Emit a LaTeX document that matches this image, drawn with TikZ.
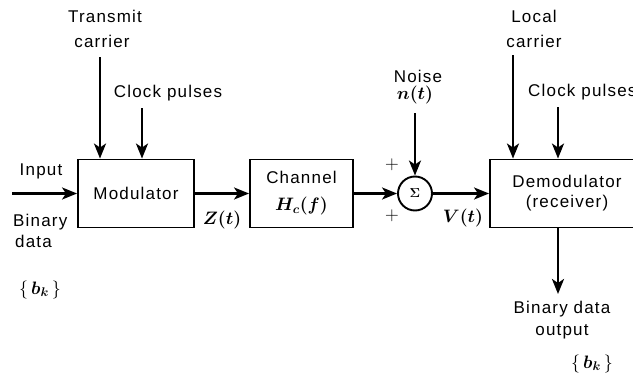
\RequirePackage{fix-cm}
\documentclass[tikz,border=0pt]{standalone}
\usepackage{fontspec}
\setmainfont{Liberation Sans}[LetterSpace=7]
\usetikzlibrary{arrows.meta,calc}
\newcommand{\bkset}{$\{\,${\boldmath$b_k$}$\,\}$}
\begin{document}
\begin{tikzpicture}[x=1pt,y=-1pt,
  font=\fontsize{17}{20}\selectfont,
  box/.style={draw, line width=1.9pt, minimum height=68pt, inner sep=0pt, align=center},
  arr/.style={line width=2.5pt, -{Stealth[length=15pt,width=12pt,inset=4pt]}},
  lbl/.style={inner sep=0pt, anchor=base},
  lblw/.style={inner sep=0pt, anchor=base west},
  mth/.style={font=\fontsize{18}{20}\selectfont\boldmath},
  mthp/.style={font=\fontsize{18}{20}\selectfont}]
\useasboundingbox (0,0) rectangle (633,380);
\clip (0,0) rectangle (633,380);

% blocks
\node[box, minimum width=116pt] (mod) at (136,193.5) {Modulator};
\node[box, minimum width=103pt, font=\fontsize{17}{27}\selectfont] (chan) at (301.5,193.5) {Channel\\{\fontsize{18}{20}\selectfont\boldmath$H_c(f)$}};
\node[draw, circle, line width=1.9pt, minimum size=34pt, inner sep=0pt, font=\fontsize{13}{13}\selectfont\boldmath] (sum) at (415,193.5) {$\Sigma$};
\node[box, minimum width=154pt] (demod) at (567,193.5) {Demodulator\\(receiver)};

% arrow ends
\coordinate (in) at (12,193.5);
\coordinate (tc) at (100,57);
\coordinate (cp1) at (142,108);
\coordinate (nz) at (415,113);
\coordinate (lc) at (513,55);
\coordinate (cp2) at (558,107);
\coordinate (out) at (558,294);

% connectors
\draw[arr] (in) -- (in -| mod.west);
\draw[arr] (mod) -- (chan);
\draw[arr] (chan) -- (sum);
\draw[arr] (sum) -- (demod);
\draw[arr] (tc) -- (tc |- mod.north);
\draw[arr] (cp1) -- (cp1 |- mod.north);
\draw[arr] (nz) -- (sum);
\draw[arr] (lc) -- (lc |- demod.north);
\draw[arr] (cp2) -- (cp2 |- demod.north);
\draw[arr] (out |- demod.south) -- (out);

% labels
\node[lbl] (t1) at (105,23) {Transmit};
\node[lbl] (t2) at (102,48) {carrier};
\node[lbl] (ck1) at (168,97) {Clock pulses};
\node[lbl] (inp) at (41,175) {Input};
\node[lblw] (bin1) at (13,226) {Binary};
\node[lblw] (bin2) at (15,247) {data};
\node[lbl, mthp] (bk1) at (40,294) {\bkset};
\node[lbl, mth] (zt) at (222,224) {$Z(t)$};
\node[lbl] (nz1) at (418,82) {Noise};
\node[lbl, mth] (nz2) at (415,99) {$n(t)$};
\node[font=\fontsize{19}{19}\selectfont] (p1) at (392,165) {$+$};
\node[font=\fontsize{19}{19}\selectfont] (p2) at (392,216) {$+$};
\node[lbl, mth] (vt) at (463,222) {$V(t)$};
\node[lbl] (lc1) at (534,23) {Local};
\node[lbl] (lc2) at (534,47) {carrier};
\node[lblw] (ck2) at (528,96) {Clock pulses};
\node[lbl] (o1) at (562,313) {Binary data};
\node[lbl] (o2) at (562,335) {output};
\node[lbl, mthp] (bk2) at (592,368) {\bkset};
\end{tikzpicture}
\end{document}
